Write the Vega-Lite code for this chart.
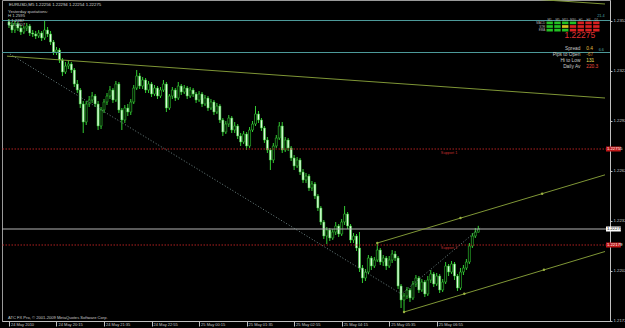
{
"$schema":"https://vega.github.io/schema/vega-lite/v6.json",
"width":608,"height":321,"autosize":"none",
"padding":{"left":2,"top":0,"right":15,"bottom":7},
"background":"#000000",
"config":{"view":{"stroke":"#9a9a9a","strokeWidth":1},"axis":{"grid":false,"domainColor":"#c0c0c0","tickColor":"#c0c0c0","labelColor":"#c8c8c8","labelFont":"Liberation Sans"},"text":{"font":"Liberation Sans"}},
"datasets":{
"bars":[
{"t":"2010-05-24T18:55","o":1.23517,"h":1.23535,"l":1.23481,"c":1.23499},
{"t":"2010-05-24T19:00","o":1.23499,"h":1.23517,"l":1.23451,"c":1.23469},
{"t":"2010-05-24T19:05","o":1.23469,"h":1.23523,"l":1.23451,"c":1.23505},
{"t":"2010-05-24T19:10","o":1.23505,"h":1.23517,"l":1.23463,"c":1.23481},
{"t":"2010-05-24T19:15","o":1.23481,"h":1.23499,"l":1.23439,"c":1.23457},
{"t":"2010-05-24T19:20","o":1.23457,"h":1.23493,"l":1.23445,"c":1.23481},
{"t":"2010-05-24T19:25","o":1.23481,"h":1.23511,"l":1.23463,"c":1.23493},
{"t":"2010-05-24T19:30","o":1.23493,"h":1.23505,"l":1.23433,"c":1.23451},
{"t":"2010-05-24T19:35","o":1.23451,"h":1.23469,"l":1.23427,"c":1.23445},
{"t":"2010-05-24T19:40","o":1.23445,"h":1.23463,"l":1.23415,"c":1.23433},
{"t":"2010-05-24T19:45","o":1.23433,"h":1.23469,"l":1.23421,"c":1.23451},
{"t":"2010-05-24T19:50","o":1.23451,"h":1.23463,"l":1.23403,"c":1.23421},
{"t":"2010-05-24T19:55","o":1.23421,"h":1.23523,"l":1.23409,"c":1.23469},
{"t":"2010-05-24T20:00","o":1.23469,"h":1.23487,"l":1.23427,"c":1.23445},
{"t":"2010-05-24T20:05","o":1.23445,"h":1.23463,"l":1.23379,"c":1.23397},
{"t":"2010-05-24T20:10","o":1.23397,"h":1.23409,"l":1.23319,"c":1.23337},
{"t":"2010-05-24T20:15","o":1.23337,"h":1.23367,"l":1.23319,"c":1.23349},
{"t":"2010-05-24T20:20","o":1.23349,"h":1.23361,"l":1.23271,"c":1.23289},
{"t":"2010-05-24T20:25","o":1.23289,"h":1.23301,"l":1.23193,"c":1.23217},
{"t":"2010-05-24T20:30","o":1.23217,"h":1.23277,"l":1.23205,"c":1.23253},
{"t":"2010-05-24T20:35","o":1.23253,"h":1.23283,"l":1.23235,"c":1.23265},
{"t":"2010-05-24T20:40","o":1.23265,"h":1.23277,"l":1.23211,"c":1.23229},
{"t":"2010-05-24T20:45","o":1.23229,"h":1.23241,"l":1.23127,"c":1.23145},
{"t":"2010-05-24T20:50","o":1.23145,"h":1.23169,"l":1.23091,"c":1.23109},
{"t":"2010-05-24T20:55","o":1.23109,"h":1.23121,"l":1.23001,"c":1.23025},
{"t":"2010-05-24T21:00","o":1.23025,"h":1.23043,"l":1.22851,"c":1.22917},
{"t":"2010-05-24T21:05","o":1.22917,"h":1.23043,"l":1.22899,"c":1.23025},
{"t":"2010-05-24T21:10","o":1.23025,"h":1.23073,"l":1.23007,"c":1.23049},
{"t":"2010-05-24T21:15","o":1.23049,"h":1.23097,"l":1.23031,"c":1.23073},
{"t":"2010-05-24T21:20","o":1.23073,"h":1.23085,"l":1.23007,"c":1.23025},
{"t":"2010-05-24T21:25","o":1.23025,"h":1.23043,"l":1.22869,"c":1.22893},
{"t":"2010-05-24T21:30","o":1.22893,"h":1.23007,"l":1.22875,"c":1.22989},
{"t":"2010-05-24T21:35","o":1.22989,"h":1.23055,"l":1.22971,"c":1.23037},
{"t":"2010-05-24T21:40","o":1.23037,"h":1.23091,"l":1.23019,"c":1.23073},
{"t":"2010-05-24T21:45","o":1.23073,"h":1.23133,"l":1.23055,"c":1.23109},
{"t":"2010-05-24T21:50","o":1.23109,"h":1.23121,"l":1.23031,"c":1.23049},
{"t":"2010-05-24T21:55","o":1.23049,"h":1.23163,"l":1.23037,"c":1.23145},
{"t":"2010-05-24T22:00","o":1.23145,"h":1.23157,"l":1.22971,"c":1.22989},
{"t":"2010-05-24T22:05","o":1.22989,"h":1.23001,"l":1.22869,"c":1.22929},
{"t":"2010-05-24T22:10","o":1.22929,"h":1.23019,"l":1.22911,"c":1.23001},
{"t":"2010-05-24T22:15","o":1.23001,"h":1.23025,"l":1.22953,"c":1.22977},
{"t":"2010-05-24T22:20","o":1.22977,"h":1.23055,"l":1.22959,"c":1.23037},
{"t":"2010-05-24T22:25","o":1.23037,"h":1.23139,"l":1.23025,"c":1.23121},
{"t":"2010-05-24T22:30","o":1.23121,"h":1.23229,"l":1.23109,"c":1.23193},
{"t":"2010-05-24T22:35","o":1.23193,"h":1.23211,"l":1.23115,"c":1.23133},
{"t":"2010-05-24T22:40","o":1.23133,"h":1.23187,"l":1.23115,"c":1.23169},
{"t":"2010-05-24T22:45","o":1.23169,"h":1.23181,"l":1.23091,"c":1.23109},
{"t":"2010-05-24T22:50","o":1.23109,"h":1.23163,"l":1.23091,"c":1.23145},
{"t":"2010-05-24T22:55","o":1.23145,"h":1.23157,"l":1.23067,"c":1.23085},
{"t":"2010-05-24T23:00","o":1.23085,"h":1.23139,"l":1.23073,"c":1.23121},
{"t":"2010-05-24T23:05","o":1.23121,"h":1.23133,"l":1.23055,"c":1.23073},
{"t":"2010-05-24T23:10","o":1.23073,"h":1.23127,"l":1.23061,"c":1.23109},
{"t":"2010-05-24T23:15","o":1.23109,"h":1.23169,"l":1.23097,"c":1.23145},
{"t":"2010-05-24T23:20","o":1.23145,"h":1.23157,"l":1.22977,"c":1.23001},
{"t":"2010-05-24T23:25","o":1.23001,"h":1.23085,"l":1.22989,"c":1.23073},
{"t":"2010-05-24T23:30","o":1.23073,"h":1.23127,"l":1.23055,"c":1.23109},
{"t":"2010-05-24T23:35","o":1.23109,"h":1.23121,"l":1.23043,"c":1.23061},
{"t":"2010-05-24T23:40","o":1.23061,"h":1.23157,"l":1.23049,"c":1.23133},
{"t":"2010-05-24T23:45","o":1.23133,"h":1.23145,"l":1.23079,"c":1.23097},
{"t":"2010-05-24T23:50","o":1.23097,"h":1.23139,"l":1.23085,"c":1.23121},
{"t":"2010-05-24T23:55","o":1.23121,"h":1.23133,"l":1.23055,"c":1.23073},
{"t":"2010-05-25T00:00","o":1.23073,"h":1.23127,"l":1.23061,"c":1.23109},
{"t":"2010-05-25T00:05","o":1.23109,"h":1.23121,"l":1.23067,"c":1.23085},
{"t":"2010-05-25T00:10","o":1.23085,"h":1.23097,"l":1.23031,"c":1.23049},
{"t":"2010-05-25T00:15","o":1.23049,"h":1.23103,"l":1.23037,"c":1.23085},
{"t":"2010-05-25T00:20","o":1.23085,"h":1.23097,"l":1.23007,"c":1.23025},
{"t":"2010-05-25T00:25","o":1.23025,"h":1.23079,"l":1.23013,"c":1.23061},
{"t":"2010-05-25T00:30","o":1.23061,"h":1.23073,"l":1.22983,"c":1.23001},
{"t":"2010-05-25T00:35","o":1.23001,"h":1.23055,"l":1.22989,"c":1.23037},
{"t":"2010-05-25T00:40","o":1.23037,"h":1.23049,"l":1.22959,"c":1.22977},
{"t":"2010-05-25T00:45","o":1.22977,"h":1.23031,"l":1.22965,"c":1.23013},
{"t":"2010-05-25T00:50","o":1.23013,"h":1.23025,"l":1.22911,"c":1.22929},
{"t":"2010-05-25T00:55","o":1.22929,"h":1.22941,"l":1.22833,"c":1.22857},
{"t":"2010-05-25T01:00","o":1.22857,"h":1.22923,"l":1.22845,"c":1.22905},
{"t":"2010-05-25T01:05","o":1.22905,"h":1.22959,"l":1.22887,"c":1.22941},
{"t":"2010-05-25T01:10","o":1.22941,"h":1.22953,"l":1.22851,"c":1.22869},
{"t":"2010-05-25T01:15","o":1.22869,"h":1.22917,"l":1.22851,"c":1.22893},
{"t":"2010-05-25T01:20","o":1.22893,"h":1.22905,"l":1.22815,"c":1.22833},
{"t":"2010-05-25T01:25","o":1.22833,"h":1.22851,"l":1.22773,"c":1.22797},
{"t":"2010-05-25T01:30","o":1.22797,"h":1.22863,"l":1.22785,"c":1.22845},
{"t":"2010-05-25T01:35","o":1.22845,"h":1.22857,"l":1.22749,"c":1.22773},
{"t":"2010-05-25T01:40","o":1.22773,"h":1.22887,"l":1.22761,"c":1.22869},
{"t":"2010-05-25T01:45","o":1.22869,"h":1.22923,"l":1.22857,"c":1.22905},
{"t":"2010-05-25T01:50","o":1.22905,"h":1.23013,"l":1.22893,"c":1.22965},
{"t":"2010-05-25T01:55","o":1.22965,"h":1.22983,"l":1.22911,"c":1.22929},
{"t":"2010-05-25T02:00","o":1.22929,"h":1.22941,"l":1.22863,"c":1.22881},
{"t":"2010-05-25T02:05","o":1.22881,"h":1.22893,"l":1.22791,"c":1.22809},
{"t":"2010-05-25T02:10","o":1.22809,"h":1.22827,"l":1.22731,"c":1.22749},
{"t":"2010-05-25T02:15","o":1.22749,"h":1.22761,"l":1.22629,"c":1.22689},
{"t":"2010-05-25T02:20","o":1.22689,"h":1.22791,"l":1.22671,"c":1.22773},
{"t":"2010-05-25T02:25","o":1.22773,"h":1.22839,"l":1.22761,"c":1.22821},
{"t":"2010-05-25T02:30","o":1.22821,"h":1.22917,"l":1.22809,"c":1.22893},
{"t":"2010-05-25T02:35","o":1.22893,"h":1.22917,"l":1.22731,"c":1.22749},
{"t":"2010-05-25T02:40","o":1.22749,"h":1.22827,"l":1.22737,"c":1.22809},
{"t":"2010-05-25T02:45","o":1.22809,"h":1.22821,"l":1.22743,"c":1.22761},
{"t":"2010-05-25T02:50","o":1.22761,"h":1.22773,"l":1.22683,"c":1.22701},
{"t":"2010-05-25T02:55","o":1.22701,"h":1.22719,"l":1.22629,"c":1.22653},
{"t":"2010-05-25T03:00","o":1.22653,"h":1.22707,"l":1.22641,"c":1.22689},
{"t":"2010-05-25T03:05","o":1.22689,"h":1.22701,"l":1.22599,"c":1.22617},
{"t":"2010-05-25T03:10","o":1.22617,"h":1.22635,"l":1.22551,"c":1.22569},
{"t":"2010-05-25T03:15","o":1.22569,"h":1.22611,"l":1.22551,"c":1.22593},
{"t":"2010-05-25T03:20","o":1.22593,"h":1.22605,"l":1.22503,"c":1.22521},
{"t":"2010-05-25T03:25","o":1.22521,"h":1.22563,"l":1.22503,"c":1.22545},
{"t":"2010-05-25T03:30","o":1.22545,"h":1.22557,"l":1.22455,"c":1.22473},
{"t":"2010-05-25T03:35","o":1.22473,"h":1.22485,"l":1.22383,"c":1.22401},
{"t":"2010-05-25T03:40","o":1.22401,"h":1.22413,"l":1.22299,"c":1.22317},
{"t":"2010-05-25T03:45","o":1.22317,"h":1.22329,"l":1.22215,"c":1.22233},
{"t":"2010-05-25T03:50","o":1.22233,"h":1.22287,"l":1.22185,"c":1.22269},
{"t":"2010-05-25T03:55","o":1.22269,"h":1.22281,"l":1.22203,"c":1.22221},
{"t":"2010-05-25T04:00","o":1.22221,"h":1.22275,"l":1.22209,"c":1.22257},
{"t":"2010-05-25T04:05","o":1.22257,"h":1.22317,"l":1.22239,"c":1.22293},
{"t":"2010-05-25T04:10","o":1.22293,"h":1.22305,"l":1.22227,"c":1.22245},
{"t":"2010-05-25T04:15","o":1.22245,"h":1.22335,"l":1.22233,"c":1.22317},
{"t":"2010-05-25T04:20","o":1.22317,"h":1.22413,"l":1.22299,"c":1.22365},
{"t":"2010-05-25T04:25","o":1.22365,"h":1.22377,"l":1.22275,"c":1.22293},
{"t":"2010-05-25T04:30","o":1.22293,"h":1.22305,"l":1.22191,"c":1.22209},
{"t":"2010-05-25T04:35","o":1.22209,"h":1.22251,"l":1.22191,"c":1.22233},
{"t":"2010-05-25T04:40","o":1.22233,"h":1.22245,"l":1.22143,"c":1.22161},
{"t":"2010-05-25T04:45","o":1.22161,"h":1.22257,"l":1.22017,"c":1.22041},
{"t":"2010-05-25T04:50","o":1.22041,"h":1.22059,"l":1.21951,"c":1.21981},
{"t":"2010-05-25T04:55","o":1.21981,"h":1.22035,"l":1.21963,"c":1.22017},
{"t":"2010-05-25T05:00","o":1.22017,"h":1.22119,"l":1.22005,"c":1.22101},
{"t":"2010-05-25T05:05","o":1.22101,"h":1.22113,"l":1.22029,"c":1.22053},
{"t":"2010-05-25T05:10","o":1.22053,"h":1.22107,"l":1.22041,"c":1.22089},
{"t":"2010-05-25T05:15","o":1.22089,"h":1.22191,"l":1.22077,"c":1.22149},
{"t":"2010-05-25T05:20","o":1.22149,"h":1.22161,"l":1.22059,"c":1.22077},
{"t":"2010-05-25T05:25","o":1.22077,"h":1.22119,"l":1.22053,"c":1.22101},
{"t":"2010-05-25T05:30","o":1.22101,"h":1.22113,"l":1.22029,"c":1.22053},
{"t":"2010-05-25T05:35","o":1.22053,"h":1.22113,"l":1.22041,"c":1.22089},
{"t":"2010-05-25T05:40","o":1.22089,"h":1.22149,"l":1.22071,"c":1.22125},
{"t":"2010-05-25T05:45","o":1.22125,"h":1.22143,"l":1.22083,"c":1.22101},
{"t":"2010-05-25T05:50","o":1.22101,"h":1.22113,"l":1.21915,"c":1.21933},
{"t":"2010-05-25T05:55","o":1.21933,"h":1.21945,"l":1.21801,"c":1.21849},
{"t":"2010-05-25T06:00","o":1.21849,"h":1.21891,"l":1.21777,"c":1.21873},
{"t":"2010-05-25T06:05","o":1.21873,"h":1.21927,"l":1.21855,"c":1.21909},
{"t":"2010-05-25T06:10","o":1.21909,"h":1.21921,"l":1.21837,"c":1.21861},
{"t":"2010-05-25T06:15","o":1.21861,"h":1.21963,"l":1.21849,"c":1.21945},
{"t":"2010-05-25T06:20","o":1.21945,"h":1.21999,"l":1.21927,"c":1.21981},
{"t":"2010-05-25T06:25","o":1.21981,"h":1.21993,"l":1.21891,"c":1.21909},
{"t":"2010-05-25T06:30","o":1.21909,"h":1.21975,"l":1.21897,"c":1.21957},
{"t":"2010-05-25T06:35","o":1.21957,"h":1.21969,"l":1.21867,"c":1.21885},
{"t":"2010-05-25T06:40","o":1.21885,"h":1.21993,"l":1.21873,"c":1.21969},
{"t":"2010-05-25T06:45","o":1.21969,"h":1.22029,"l":1.21951,"c":1.22005},
{"t":"2010-05-25T06:50","o":1.22005,"h":1.22017,"l":1.21927,"c":1.21945},
{"t":"2010-05-25T06:55","o":1.21945,"h":1.22011,"l":1.21933,"c":1.21993},
{"t":"2010-05-25T07:00","o":1.21993,"h":1.22005,"l":1.21891,"c":1.21909},
{"t":"2010-05-25T07:05","o":1.21909,"h":1.21975,"l":1.21897,"c":1.21957},
{"t":"2010-05-25T07:10","o":1.21957,"h":1.22077,"l":1.21945,"c":1.22053},
{"t":"2010-05-25T07:15","o":1.22053,"h":1.22065,"l":1.21993,"c":1.22017},
{"t":"2010-05-25T07:20","o":1.22017,"h":1.22083,"l":1.22005,"c":1.22065},
{"t":"2010-05-25T07:25","o":1.22065,"h":1.22077,"l":1.21969,"c":1.21993},
{"t":"2010-05-25T07:30","o":1.21993,"h":1.22005,"l":1.21903,"c":1.21921},
{"t":"2010-05-25T07:35","o":1.21921,"h":1.22041,"l":1.21909,"c":1.22017},
{"t":"2010-05-25T07:40","o":1.22017,"h":1.22059,"l":1.21999,"c":1.22041},
{"t":"2010-05-25T07:45","o":1.22041,"h":1.22095,"l":1.22029,"c":1.22077},
{"t":"2010-05-25T07:50","o":1.22077,"h":1.22191,"l":1.22065,"c":1.22173},
{"t":"2010-05-25T07:55","o":1.22173,"h":1.22251,"l":1.22161,"c":1.22233},
{"t":"2010-05-25T08:00","o":1.22233,"h":1.22281,"l":1.22221,"c":1.22257},
{"t":"2010-05-25T08:05","o":1.22256,"h":1.22294,"l":1.22254,"c":1.22275}
],
"lines":[
{"id":"up","t":"2010-05-25T05:15","p":1.22191},{"id":"up","t":"2010-05-25T11:38:18","p":1.226},
{"id":"lo","t":"2010-05-25T06:00","p":1.21777},{"id":"lo","t":"2010-05-25T11:38:18","p":1.2214},
{"id":"olive","t":"2010-05-24T18:51:41","p":1.23312},{"id":"olive","t":"2010-05-25T11:38:18","p":1.23061},
{"id":"top","t":"2010-05-24T18:51:41","p":1.23869},{"id":"top","t":"2010-05-25T11:38:18","p":1.23625}
],
"vline":[
{"t":"2010-05-24T18:56:40","p":1.23325},{"t":"2010-05-25T05:55:30","p":1.21885},{"t":"2010-05-25T08:08","p":1.22281}
],
"marks":[
{"t":"2010-05-25T05:15","p":1.22191},{"t":"2010-05-25T07:35","p":1.22341},{"t":"2010-05-25T09:52:30","p":1.22487},
{"t":"2010-05-25T06:00","p":1.21777},{"t":"2010-05-25T07:41:30","p":1.21887},{"t":"2010-05-25T09:55:30","p":1.2203}
],
"grid":[
{"tf":"M1","ind":"MACD","s":"up"},{"tf":"M5","ind":"MACD","s":"up"},{"tf":"M15","ind":"MACD","s":"up"},{"tf":"M30","ind":"MACD","s":"up"},{"tf":"H1","ind":"MACD","s":"down"},{"tf":"H4","ind":"MACD","s":"down"},{"tf":"D1","ind":"MACD","s":"down"},
{"tf":"M1","ind":"STR","s":"up"},{"tf":"M5","ind":"STR","s":"up"},{"tf":"M15","ind":"STR","s":"flat"},{"tf":"M30","ind":"STR","s":"down"},{"tf":"H1","ind":"STR","s":"down"},{"tf":"H4","ind":"STR","s":"down"},{"tf":"D1","ind":"STR","s":"down"},
{"tf":"M1","ind":"EMA","s":"up"},{"tf":"M5","ind":"EMA","s":"up"},{"tf":"M15","ind":"EMA","s":"up"},{"tf":"M30","ind":"EMA","s":"down"},{"tf":"H1","ind":"EMA","s":"down"},{"tf":"H4","ind":"EMA","s":"down"},{"tf":"D1","ind":"EMA","s":"down"}
]
},
"layer":[
{"layer":[
{"data":{"name":"bars"},"mark":{"type":"rule","color":"#33cc33","strokeWidth":1},
 "encoding":{
  "x":{"field":"t","type":"temporal","title":null,
   "scale":{"domain":[{"year":2010,"month":"may","date":24,"hours":18,"minutes":51,"seconds":41},{"year":2010,"month":"may","date":25,"hours":11,"minutes":38,"seconds":18}],"nice":false},
   "axis":{"title":null,"orient":"bottom","values":[
    {"year":2010,"month":"may","date":24,"hours":18,"minutes":55},{"year":2010,"month":"may","date":24,"hours":19,"minutes":35},{"year":2010,"month":"may","date":24,"hours":20,"minutes":15},{"year":2010,"month":"may","date":24,"hours":20,"minutes":55},{"year":2010,"month":"may","date":24,"hours":21,"minutes":35},{"year":2010,"month":"may","date":24,"hours":22,"minutes":15},{"year":2010,"month":"may","date":24,"hours":22,"minutes":55},{"year":2010,"month":"may","date":24,"hours":23,"minutes":35},{"year":2010,"month":"may","date":25,"hours":0,"minutes":15},{"year":2010,"month":"may","date":25,"hours":0,"minutes":55},{"year":2010,"month":"may","date":25,"hours":1,"minutes":35},{"year":2010,"month":"may","date":25,"hours":2,"minutes":15},{"year":2010,"month":"may","date":25,"hours":2,"minutes":55},{"year":2010,"month":"may","date":25,"hours":3,"minutes":35},{"year":2010,"month":"may","date":25,"hours":4,"minutes":15},{"year":2010,"month":"may","date":25,"hours":4,"minutes":55},{"year":2010,"month":"may","date":25,"hours":5,"minutes":35},{"year":2010,"month":"may","date":25,"hours":6,"minutes":15},{"year":2010,"month":"may","date":25,"hours":6,"minutes":55},{"year":2010,"month":"may","date":25,"hours":7,"minutes":35}],
    "labelExpr":"timeFormat(datum.value, '%H:%M') == '18:55' ? '24 May 2010' : timeFormat(datum.value, '%d %b %H:%M')",
    "labelAlign":"left","labelBaseline":"top","labelOffset":1.5,"labelPadding":-4,"tickSize":5,"labelFontSize":4,"labelOverlap":false,"labelFlush":false}},
  "y":{"field":"l","type":"quantitative","title":null,
   "scale":{"domain":[1.21723,1.23649],"nice":false,"zero":false},
   "axis":{"title":null,"orient":"right","values":[1.21725,1.218,1.21875,1.2195,1.22025,1.221,1.22175,1.2225,1.22325,1.224,1.22475,1.2255,1.22625,1.227,1.22775,1.2285,1.22925,1.23,1.23075,1.2315,1.23225,1.233,1.23375,1.2345,1.23525,1.236],
    "format":".5f","tickSize":2,"labelPadding":1,"labelFontSize":4.3,"labelOverlap":false,"labelFlush":false}},
  "y2":{"field":"h"}}},
{"data":{"name":"bars"},"mark":{"type":"bar","width":2,"stroke":"#33cc33","strokeWidth":0.6},
 "encoding":{
  "x":{"field":"t","type":"temporal","title":null,"scale":{"domain":[{"year":2010,"month":"may","date":24,"hours":18,"minutes":51,"seconds":41},{"year":2010,"month":"may","date":25,"hours":11,"minutes":38,"seconds":18}],"nice":false}},
  "y":{"field":"o","type":"quantitative","title":null,"scale":{"domain":[1.21723,1.23649],"nice":false,"zero":false}},
  "y2":{"field":"c"},
  "fill":{"condition":{"test":"datum.c < datum.o","value":"#e6ffe6"},"value":"#000000"}}},
{"data":{"values":[{}]},"mark":{"type":"rule","color":"#4d9a9a","strokeWidth":1},"encoding":{"y":{"datum":1.23526}}},
{"data":{"values":[{}]},"mark":{"type":"rule","color":"#4d9a9a","strokeWidth":1},"encoding":{"y":{"datum":1.23334}}},
{"data":{"values":[{}]},"mark":{"type":"rule","color":"#b4b4b4","strokeWidth":1},"encoding":{"y":{"datum":1.22275}}},
{"data":{"values":[{}]},"mark":{"type":"rule","color":"#b02020","strokeWidth":1,"strokeDash":[1.5,1.5]},"encoding":{"y":{"datum":1.22755}}},
{"data":{"values":[{}]},"mark":{"type":"rule","color":"#b02020","strokeWidth":1,"strokeDash":[1.5,1.5]},"encoding":{"y":{"datum":1.22179}}},
{"data":{"name":"lines"},"mark":{"type":"line","color":"#7f9636","strokeWidth":1,"clip":true},
 "encoding":{"x":{"field":"t","type":"temporal","title":null},"y":{"field":"p","type":"quantitative","title":null},"detail":{"field":"id"}}},
{"data":{"name":"vline"},"mark":{"type":"line","color":"#8aa6a6","strokeWidth":0.8,"strokeDash":[1,2],"clip":true},
 "encoding":{"x":{"field":"t","type":"temporal","title":null},"y":{"field":"p","type":"quantitative","title":null}}},
{"data":{"name":"marks"},"mark":{"type":"point","filled":true,"size":6,"color":"#9ab040","opacity":1},
 "encoding":{"x":{"field":"t","type":"temporal","title":null},"y":{"field":"p","type":"quantitative","title":null}}},
{"data":{"values":[{}]},"mark":{"type":"text","align":"left","baseline":"middle","fontSize":4.3,"color":"#d8d8d8","text":"EURUSD,M5  1.22256 1.22294 1.22254 1.22275"},
 "encoding":{"x":{"datum":{"year":2010,"month":"may","date":24,"hours":18,"minutes":55},"type":"temporal"},"y":{"datum":1.23622}}},
{"data":{"values":[{}]},"mark":{"type":"text","align":"left","baseline":"top","fontSize":4.2,"lineHeight":4.5,"color":"#c8c8c8","text":["Yesterday quotations:","H 1.2595","L 1.2287","C 1.2307"]},
 "encoding":{"x":{"datum":{"year":2010,"month":"may","date":24,"hours":18,"minutes":53,"seconds":20},"type":"temporal"},"y":{"datum":1.2359}}},
{"data":{"values":[{}]},"mark":{"type":"text","align":"left","baseline":"middle","fontSize":4.1,"color":"#c8c8c8","text":"ATC FX Pro, © 2001-2009 MetaQuotes Software Corp."},
 "encoding":{"x":{"datum":{"year":2010,"month":"may","date":24,"hours":18,"minutes":53,"seconds":20},"type":"temporal"},"y":{"datum":1.21741}}},
{"data":{"values":[{}]},"mark":{"type":"text","align":"right","baseline":"top","fontSize":4.8,"lineHeight":6,"color":"#c8c8c8","text":["Spread","Pips to Open","Hi to Low","Daily Av"]},
 "encoding":{"x":{"datum":{"year":2010,"month":"may","date":25,"hours":10,"minutes":56,"seconds":53},"type":"temporal"},"y":{"datum":1.23373}}},
{"data":{"values":[{}]},"mark":{"type":"text","align":"left","baseline":"middle","fontSize":4.8,"color":"#e8c040","text":"0.4"},
 "encoding":{"x":{"datum":{"year":2010,"month":"may","date":25,"hours":11,"minutes":6,"seconds":47},"type":"temporal"},"y":{"datum":1.23358}}},
{"data":{"values":[{}]},"mark":{"type":"text","align":"left","baseline":"middle","fontSize":4.8,"color":"#d08a30","text":"-67"},
 "encoding":{"x":{"datum":{"year":2010,"month":"may","date":25,"hours":11,"minutes":6,"seconds":47},"type":"temporal"},"y":{"datum":1.23322}}},
{"data":{"values":[{}]},"mark":{"type":"text","align":"left","baseline":"middle","fontSize":4.8,"color":"#f0e060","text":"131"},
 "encoding":{"x":{"datum":{"year":2010,"month":"may","date":25,"hours":11,"minutes":6,"seconds":47},"type":"temporal"},"y":{"datum":1.23286}}},
{"data":{"values":[{}]},"mark":{"type":"text","align":"left","baseline":"middle","fontSize":4.8,"color":"#e84a3a","text":"220.3"},
 "encoding":{"x":{"datum":{"year":2010,"month":"may","date":25,"hours":11,"minutes":6,"seconds":47},"type":"temporal"},"y":{"datum":1.2325}}},
{"data":{"values":[{}]},"mark":{"type":"text","align":"right","baseline":"middle","fontSize":8.5,"color":"#e03030","text":"1.22275"},
 "encoding":{"x":{"datum":{"year":2010,"month":"may","date":25,"hours":11,"minutes":21,"seconds":47},"type":"temporal"},"y":{"datum":1.23442}}},
{"data":{"values":[{}]},"mark":{"type":"text","align":"left","baseline":"middle","fontSize":3.8,"color":"#c03030","text":"Support 1"},
 "encoding":{"x":{"datum":{"year":2010,"month":"may","date":25,"hours":7,"minutes":2},"type":"temporal"},"y":{"datum":1.22734}}},
{"data":{"values":[{}]},"mark":{"type":"text","align":"left","baseline":"middle","fontSize":3.8,"color":"#c03030","text":"Support 2"},
 "encoding":{"x":{"datum":{"year":2010,"month":"may","date":25,"hours":7,"minutes":2},"type":"temporal"},"y":{"datum":1.22161}}},
{"data":{"values":[{}]},"mark":{"type":"text","align":"right","baseline":"middle","fontSize":3.8,"color":"#4fa8a8","text":"21.4"},
 "encoding":{"x":{"datum":{"year":2010,"month":"may","date":25,"hours":11,"minutes":37,"seconds":30},"type":"temporal"},"y":{"datum":1.23556}}},
{"data":{"values":[{}]},"mark":{"type":"text","align":"right","baseline":"middle","fontSize":3.8,"color":"#4fa8a8","text":"6.6"},
 "encoding":{"x":{"datum":{"year":2010,"month":"may","date":25,"hours":11,"minutes":36,"seconds":35},"type":"temporal"},"y":{"datum":1.23349}}},
{"data":{"values":[{}]},"mark":{"type":"rect","color":"#ffffff"},
 "encoding":{"x":{"datum":{"year":2010,"month":"may","date":25,"hours":11,"minutes":40},"type":"temporal"},"x2":{"datum":{"year":2010,"month":"may","date":25,"hours":12,"minutes":5}},"y":{"datum":1.2229},"y2":{"datum":1.2226}}},
{"data":{"values":[{}]},"mark":{"type":"rect","color":"#c01818"},
 "encoding":{"x":{"datum":{"year":2010,"month":"may","date":25,"hours":11,"minutes":40},"type":"temporal"},"x2":{"datum":{"year":2010,"month":"may","date":25,"hours":12,"minutes":5}},"y":{"datum":1.2277},"y2":{"datum":1.2274}}},
{"data":{"values":[{}]},"mark":{"type":"rect","color":"#c01818"},
 "encoding":{"x":{"datum":{"year":2010,"month":"may","date":25,"hours":11,"minutes":40},"type":"temporal"},"x2":{"datum":{"year":2010,"month":"may","date":25,"hours":12,"minutes":5}},"y":{"datum":1.22194},"y2":{"datum":1.22164}}},
{"data":{"values":[{}]},"mark":{"type":"text","align":"left","baseline":"middle","fontSize":4.3,"color":"#000000","text":"1.22275"},
 "encoding":{"x":{"datum":{"year":2010,"month":"may","date":25,"hours":11,"minutes":41,"seconds":30},"type":"temporal"},"y":{"datum":1.22275}}},
{"data":{"values":[{}]},"mark":{"type":"text","align":"left","baseline":"middle","fontSize":4.3,"color":"#ffffff","text":"1.22755"},
 "encoding":{"x":{"datum":{"year":2010,"month":"may","date":25,"hours":11,"minutes":41,"seconds":30},"type":"temporal"},"y":{"datum":1.22755}}},
{"data":{"values":[{}]},"mark":{"type":"text","align":"left","baseline":"middle","fontSize":4.3,"color":"#ffffff","text":"1.22179"},
 "encoding":{"x":{"datum":{"year":2010,"month":"may","date":25,"hours":11,"minutes":41,"seconds":30},"type":"temporal"},"y":{"datum":1.22179}}}
]},
{"layer":[
{"data":{"name":"grid"},"mark":{"type":"rect"},
 "encoding":{
  "x":{"field":"tf","type":"nominal","axis":null,"scale":{"type":"band","domain":["M1","M5","M15","M30","H1","H4","D1"],"range":[544.5,597.5],"paddingInner":0.18,"paddingOuter":0}},
  "y":{"field":"ind","type":"nominal","axis":null,"scale":{"type":"band","domain":["MACD","STR","EMA"],"range":[21.5,31.5],"paddingInner":0.25,"paddingOuter":0}},
  "color":{"field":"s","type":"nominal","legend":null,"scale":{"domain":["up","flat","down"],"range":["#22c022","#d8c020","#d82020"]}}}},
{"data":{"values":[{"tf":"M1"},{"tf":"M5"},{"tf":"M15"},{"tf":"M30"},{"tf":"H1"},{"tf":"H4"},{"tf":"D1"}]},
 "mark":{"type":"text","fontSize":3,"color":"#b0b0b0","baseline":"middle","dy":-3.6},
 "encoding":{"x":{"field":"tf","type":"nominal","axis":null},"y":{"datum":"MACD","type":"nominal","axis":null},"text":{"field":"tf"}}},
{"data":{"values":[{"ind":"MACD"},{"ind":"STR"},{"ind":"EMA"}]},
 "mark":{"type":"text","fontSize":3,"color":"#b0b0b0","align":"right","baseline":"middle","dx":-4.5},
 "encoding":{"x":{"datum":"M1","type":"nominal","axis":null},"y":{"field":"ind","type":"nominal","axis":null},"text":{"field":"ind"}}}
]}
],
"resolve":{"scale":{"x":"independent","y":"independent","color":"independent"}}
}
